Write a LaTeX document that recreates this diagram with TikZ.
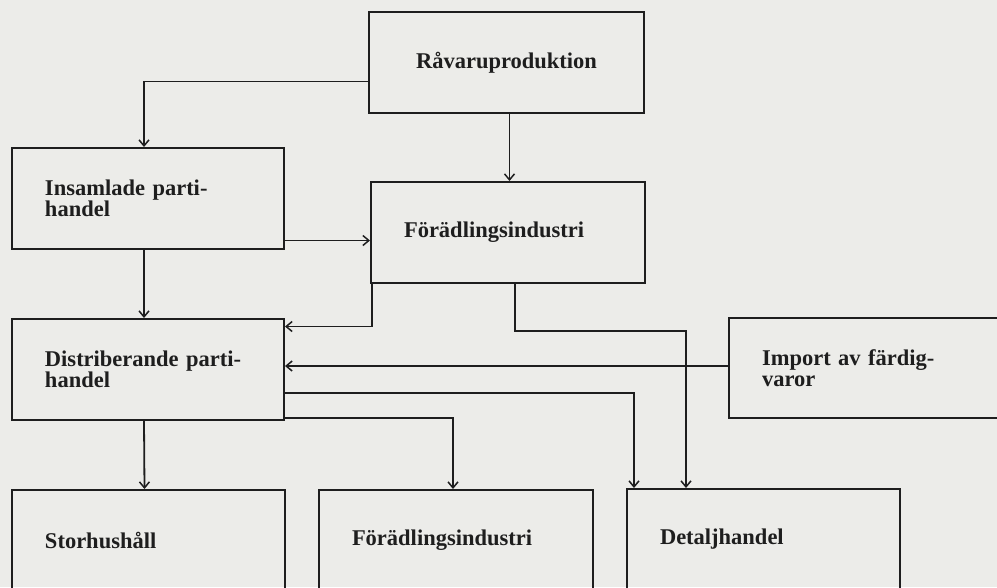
\documentclass[tikz,border=0pt]{standalone}
\usepackage{fontspec}
\setmainfont{Liberation Serif}
\usetikzlibrary{calc,arrows.meta,positioning}

\definecolor{paper}{RGB}{236,236,233}
\definecolor{ink}{RGB}{30,30,30}

\begin{document}
\begin{tikzpicture}[x=1pt,y=-1pt,
    box/.style={draw=ink, text=ink, line width=2pt, anchor=north west,
        minimum height=101pt, inner xsep=33pt, align=left,
        font=\bfseries\fontsize{22.5}{21.5}\selectfont},
    arr/.style={draw=ink, line width=1.8pt,
        -{Straight Barb[length=6pt,width=10pt,line width=1.5pt]}}]

    \useasboundingbox (0,0) rectangle (997,587);
    \clip (0,0) rectangle (997,587);
    \fill[paper] (0,0) rectangle (997,587);

    % boxes
    \node[box, text width=209pt, align=center] (raw) at (368,11) {Råvaruproduktion};
    \node[box, text width=206pt] (insam) at (11,147) {Insamlade parti-\\handel};
    \node[box, text width=208pt] (foradl) at (370,181) {Förädlingsindustri};
    \node[box, text width=206pt] (distr) at (11,318) {Distriberande parti-\\handel};
    \node[box, text width=240pt, minimum height=100pt] (import) at (728,317) {Import av färdig-\\varor};
    \node[box, text width=207pt] (storh) at (11,489) {Storhushåll};
    \node[box, text width=208pt] (foradl2) at (318,489) {Förädlingsindustri};
    \node[box, text width=207pt] (detalj) at (626,488) {Detaljhandel};

    \coordinate (cFDPt) at (686,331);
    \coordinate (cDDPt) at (634,393);

    % flows
    \draw[arr] ([yshift=-19pt]raw.west) -| ([xshift=-4pt]insam.north);
    \draw[arr] ([xshift=3pt]raw.south) -- ([xshift=3pt]raw.south |- foradl.north);
    \draw[arr] ([yshift=-42pt]insam.east) -- ([yshift=-42pt]insam.east -| foradl.west);
    \draw[arr] ([xshift=-4pt]insam.south) -- ([xshift=-4pt]distr.north);

    \draw[arr] ([xshift=2pt]foradl.south west) |- ([yshift=43pt]distr.east);
    \draw[arr] ([xshift=7pt]foradl.south) |- (cFDPt) -- (cFDPt |- detalj.north);
    \draw[arr] ([yshift=2pt]import.west) -- ([yshift=2pt]import.west -| distr.east);

    \draw[arr] (distr.east |- cDDPt) -- (cDDPt) -- (cDDPt |- detalj.north);
    \draw[arr] ([yshift=3pt]distr.south east) -| ([xshift=-3pt]foradl2.north);
    \draw[arr] ([xshift=-4pt]distr.south) -- ([xshift=-4pt]storh.north);

\end{tikzpicture}
\end{document}
